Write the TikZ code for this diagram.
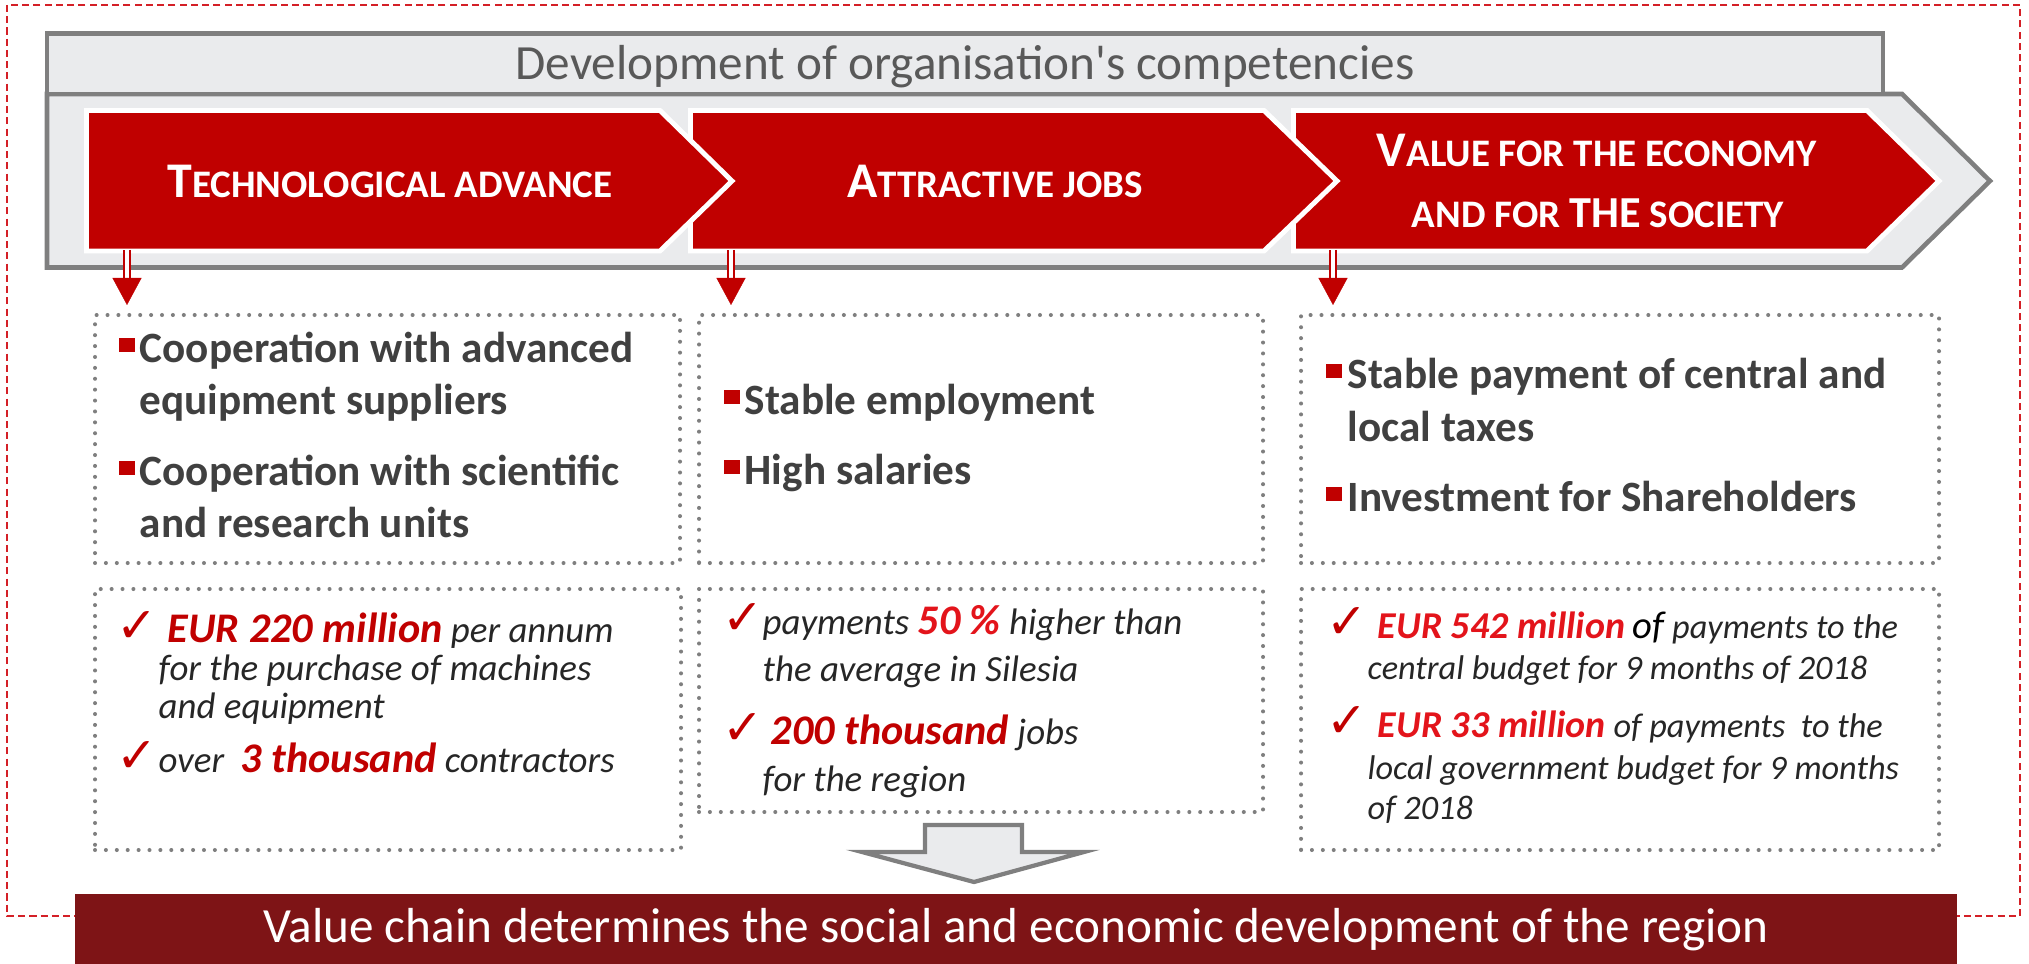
\documentclass[tikz,border=0pt]{standalone}
\usepackage{fontspec}
\setmainfont{Carlito}
\newfontfamily\tickfont{DejaVu Sans}
\usepackage{xcolor}
\usepackage{tikz}
\usetikzlibrary{arrows.meta}

\definecolor{cred}{HTML}{C00000}
\definecolor{cbright}{HTML}{E3141B}
\definecolor{cdark}{HTML}{7E1416}
\definecolor{cframe}{HTML}{7F7F7F}
\definecolor{cband}{HTML}{EAEBED}
\definecolor{ctext}{HTML}{404040}
\definecolor{cfact}{HTML}{262626}
\definecolor{chead}{HTML}{595959}
\definecolor{cdash}{HTML}{D42027}

\newcommand{\capbig}[1]{{\fontsize{14.2pt}{17pt}\selectfont #1}}
\newcommand{\capmid}[1]{{\fontsize{12.6pt}{15pt}\selectfont #1}}
\newcommand{\capsmall}[1]{{\fontsize{11.1pt}{13pt}\selectfont #1}}
\newcommand{\numred}[2][cred]{{\fontsize{12pt}{14pt}\selectfont\bfseries\color{#1}#2}}
\newcommand{\numsmall}[1]{{\fontsize{10.8pt}{13pt}\selectfont\bfseries\color{cbright}#1}}

\tikzstyle{bandframe} = [draw=cframe, fill=cband, line width=1.3pt, line join=miter]
\tikzstyle{chevron} = [fill=cred, draw=white, line width=1.4pt, line join=miter]
\tikzstyle{chevlabel} = [anchor=base, inner sep=0pt, text=white, font=\bfseries]
\tikzstyle{dotbox} = [draw=cframe, line width=1.15pt, line cap=round, dash pattern=on 0pt off 3.1pt, anchor=north west, inner sep=0pt]
\tikzstyle{bullettext} = [anchor=base west, inner sep=0pt, text=ctext, font=\fontsize{12.3pt}{14pt}\selectfont\bfseries]
\tikzstyle{facttext} = [anchor=base west, inner sep=0pt, text=cfact, font=\fontsize{10.5pt}{12pt}\selectfont\itshape]
\tikzstyle{factsmall} = [facttext, font=\fontsize{9.75pt}{12pt}\selectfont\itshape]
\tikzstyle{tickmark} = [anchor=base west, inner sep=0pt, text=cred, font=\tickfont\fontsize{14pt}{16pt}\selectfont]
\tikzstyle{shaft} = [draw=cred, line width=0.55pt, double=white, double distance=1pt]
\tikzstyle{redhead} = [cred, line width=0.1pt, -{Triangle[width=0.29cm,length=0.27cm]}]

\begin{document}
\begin{tikzpicture}
\useasboundingbox (0,0) rectangle (20.29,9.64);

% Outer dashed frame
\draw[cdash, line width=0.45pt, dash pattern=on 2pt off 1.2pt] (0.07,9.59) rectangle (20.20,0.48);

% Competencies band
\draw[bandframe] (0.47,8.70) -- (19.02,8.70) -- (19.90,7.83) -- (19.02,6.965) -- (0.47,6.965) -- cycle;
\draw[bandframe] (0.47,9.305) rectangle (18.83,8.70);
\node[anchor=base, text=chead, font=\fontsize{14pt}{17pt}\selectfont] (title) at (9.65,8.84) {Development of organisation\textquotesingle s competencies};

% Chevrons
\draw[chevron] (12.935,8.535) -- (18.67,8.535) -- (19.39,7.83) -- (18.67,7.13) -- (12.935,7.13) -- cycle;
\draw[chevron] (6.905,8.535) -- (12.64,8.535) -- (13.37,7.83) -- (12.64,7.13) -- (6.905,7.13) -- cycle;
\draw[chevron] (0.865,8.535) -- (6.60,8.535) -- (7.32,7.83) -- (6.60,7.13) -- (0.865,7.13) -- cycle;

\node[chevlabel] (tech) at (3.90,7.66) {\capbig{T}\capsmall{ECHNOLOGICAL ADVANCE}};
\node[chevlabel] (jobs) at (9.95,7.66) {\capbig{A}\capsmall{TTRACTIVE JOBS}};
\node[chevlabel] (value) at (15.97,7.97) {\capbig{V}\capsmall{ALUE FOR THE ECONOMY}};
\node[chevlabel] (society) at (15.98,7.36) {\capsmall{AND FOR }\capmid{THE}\capsmall{ SOCIETY}};

% Red down arrows
\coordinate (t1) at (1.27,7.14);
\coordinate (h1) at (1.27,6.86);
\coordinate (e1) at (1.27,6.59);
\draw[shaft] (t1) -- (h1);
\draw[redhead] (h1) -- (e1);

\coordinate (t2) at (7.31,7.14);
\coordinate (h2) at (7.31,6.86);
\coordinate (e2) at (7.31,6.59);
\draw[shaft] (t2) -- (h2);
\draw[redhead] (h2) -- (e2);

\coordinate (t3) at (13.33,7.14);
\coordinate (h3) at (13.33,6.86);
\coordinate (e3) at (13.33,6.59);
\draw[shaft] (t3) -- (h3);
\draw[redhead] (h3) -- (e3);

% Dotted boxes
\node[dotbox, minimum width=5.85cm, minimum height=2.48cm] (techpts) at (0.93,6.51) {};
\node[dotbox, minimum width=5.64cm, minimum height=2.48cm] (jobpts) at (6.97,6.51) {};
\node[dotbox, minimum width=6.38cm, minimum height=2.48cm] (valpts) at (12.99,6.51) {};
\node[dotbox, minimum width=5.86cm, minimum height=2.61cm] (techfacts) at (0.93,3.77) {};
\node[dotbox, minimum width=5.64cm, minimum height=2.23cm] (jobfacts) at (6.97,3.77) {};
\node[dotbox, minimum width=6.38cm, minimum height=2.61cm] (valfacts) at (12.99,3.77) {};

% Technological advance
\fill[cred] (1.19,6.12) rectangle (1.35,6.26);
\node[bullettext] (p1a) at (1.39,6.01) {Cooperation with advanced};
\node[bullettext] (p1b) at (1.39,5.49) {equipment suppliers};
\fill[cred] (1.19,4.89) rectangle (1.35,5.03);
\node[bullettext] (p1c) at (1.39,4.78) {Cooperation with scientific};
\node[bullettext] (p1d) at (1.39,4.26) {and research units};

% Attractive jobs
\fill[cred] (7.24,5.60) rectangle (7.40,5.74);
\node[bullettext] (p2a) at (7.44,5.49) {Stable employment};
\fill[cred] (7.24,4.90) rectangle (7.40,5.04);
\node[bullettext] (p2b) at (7.44,4.79) {High salaries};

% Value for the economy
\fill[cred] (13.26,5.86) rectangle (13.42,6.00);
\node[bullettext] (p3a) at (13.47,5.75) {Stable payment of central and};
\node[bullettext] (p3b) at (13.47,5.22) {local taxes};
\fill[cred] (13.26,4.63) rectangle (13.42,4.77);
\node[bullettext] (p3c) at (13.47,4.52) {Investment for Shareholders};

% Facts
\node[tickmark] (k1a) at (1.16,3.21) {✓};
\node[facttext] (f1a) at (1.67,3.21) {\numred{EUR 220 million} per annum};
\node[facttext] (f1b) at (1.58,2.83) {for the purchase of machines};
\node[facttext] (f1c) at (1.58,2.45) {and equipment};
\node[tickmark] (k1b) at (1.16,1.91) {✓};
\node[facttext] (f1d) at (1.58,1.91) {over \ \numred{3 thousand} contractors};

\node[tickmark] (k2a) at (7.22,3.29) {✓};
\node[facttext] (f2a) at (7.62,3.29) {payments \numred[cbright]{50 \%} higher than};
\node[facttext] (f2b) at (7.62,2.82) {the average in Silesia};
\node[tickmark] (k2b) at (7.22,2.19) {✓};
\node[facttext] (f2c) at (7.70,2.19) {\numred{200 thousand} jobs};
\node[facttext] (f2d) at (7.62,1.72) {for the region};

\node[tickmark] (k3a) at (13.26,3.25) {✓};
\node[factsmall] (f3a) at (13.77,3.25) {\numsmall{EUR 542 million} {\color{black}\fontsize{11pt}{13pt}\selectfont of} payments to the};
\node[factsmall] (f3b) at (13.67,2.84) {central budget for 9 months of 2018};
\node[tickmark] (k3b) at (13.26,2.26) {✓};
\node[factsmall] (f3c) at (13.77,2.26) {\numsmall{EUR 33 million} of payments \ to the};
\node[factsmall] (f3d) at (13.67,1.84) {local government budget for 9 months};
\node[factsmall] (f3e) at (13.67,1.44) {of 2018};

% Gray arrow to result
\draw[draw=cframe, fill=cband, line width=1.2pt, line join=miter] (9.25,1.39) -- (10.22,1.39) -- (10.22,1.12) -- (10.84,1.12) -- (9.74,0.82) -- (8.62,1.12) -- (9.25,1.12) -- cycle;

% Result bar
\fill[cdark] (0.75,0.70) rectangle (19.57,0);
\node[anchor=base, text=white, font=\fontsize{14pt}{17pt}\selectfont] (chain) at (10.16,0.22) {Value chain determines the social and economic development of the region};
\end{tikzpicture}
\end{document}
